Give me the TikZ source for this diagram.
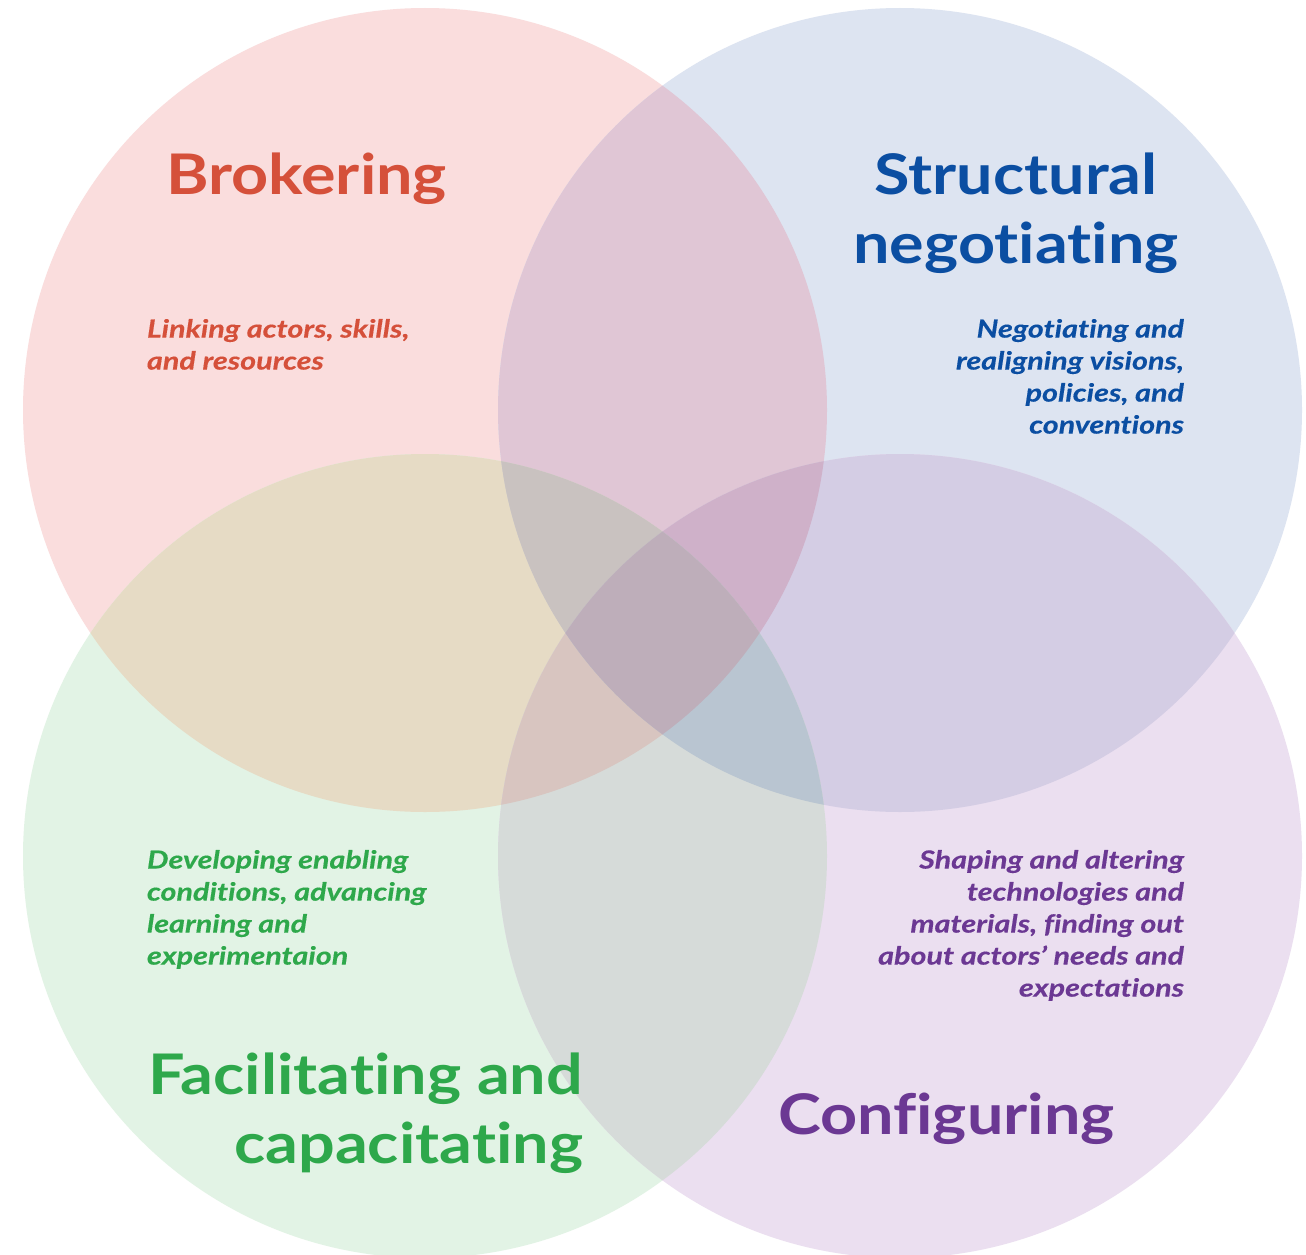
\documentclass[tikz,border=0pt]{standalone}
\usepackage{fontspec}
\setmainfont{Lato}
\newfontfamily\titlefont{Lato}[FakeStretch=1.155, Ligatures=NoCommon]
\newfontfamily\descfont{Lato}[FakeStretch=1.22, Ligatures=NoCommon, BoldItalicFeatures={FakeBold=0.3}]
\definecolor{fP}{HTML}{FADDDD}
\definecolor{fB}{HTML}{DDE4F1}
\definecolor{fG}{HTML}{E2F3E5}
\definecolor{fU}{HTML}{EBDFF0}
\definecolor{fPB}{HTML}{E0C6D5}
\definecolor{fPG}{HTML}{E6DBC5}
\definecolor{fBU}{HTML}{D4CDE4}
\definecolor{fGU}{HTML}{D6DBD9}
\definecolor{fPU}{HTML}{D9C3D1}
\definecolor{fBG}{HTML}{D0CFD0}
\definecolor{fPBG}{HTML}{C9C2C0}
\definecolor{fPBU}{HTML}{CFB1C9}
\definecolor{fPGU}{HTML}{D8C5C0}
\definecolor{fBGU}{HTML}{B9C5D1}
\definecolor{fALL}{HTML}{BEAEBA}
\definecolor{tR}{HTML}{D5503A}
\definecolor{tB}{HTML}{0B4EA2}
\definecolor{tG}{HTML}{2EA84B}
\definecolor{tU}{HTML}{6B3893}
\def\cP{(425,410) circle[radius=402pt]}
\def\cB{(900,410) circle[radius=402pt]}
\def\cG{(425,856) circle[radius=402pt]}
\def\cU{(900,856) circle[radius=402pt]}
\tikzset{
  title/.style={inner sep=0pt, outer sep=0pt, font=\titlefont\fontsize{56}{69}\selectfont\bfseries},
  desc/.style={inner sep=0pt, outer sep=0pt, font=\descfont\fontsize{25}{32}\selectfont\bfseries\itshape}
}
\begin{document}
\begin{tikzpicture}[x=1pt,y=-1pt]
\useasboundingbox (0,0) rectangle (1306,1255);
\fill[white] (0,0) rectangle (1306,1255);
\begin{scope}
\clip (0,0) rectangle (1306,1255);
% single circles
\fill[fP] \cP;
\fill[fB] \cB;
\fill[fG] \cG;
\fill[fU] \cU;
% pairs
\begin{scope}\clip \cP; \fill[fPB] \cB; \end{scope}
\begin{scope}\clip \cP; \fill[fPG] \cG; \end{scope}
\begin{scope}\clip \cP; \fill[fPU] \cU; \end{scope}
\begin{scope}\clip \cB; \fill[fBU] \cU; \end{scope}
\begin{scope}\clip \cB; \fill[fBG] \cG; \end{scope}
\begin{scope}\clip \cG; \fill[fGU] \cU; \end{scope}
% triples
\begin{scope}\clip \cP; \clip \cB; \fill[fPBG] \cG; \end{scope}
\begin{scope}\clip \cP; \clip \cB; \fill[fPBU] \cU; \end{scope}
\begin{scope}\clip \cP; \clip \cG; \fill[fPGU] \cU; \end{scope}
\begin{scope}\clip \cB; \clip \cG; \fill[fBGU] \cU; \end{scope}
% all four
\begin{scope}\clip \cP; \clip \cB; \clip \cG; \fill[fALL] \cU; \end{scope}
\end{scope}

\node[title, text=tR, anchor=north west] (brok) at (166,153) {Brokering};
\node[title, text=tB, anchor=north, align=center] (struct) at (1016,153) {Structural\\negotiating};
\node[title, text=tG, anchor=north east, align=right] (facil) at (583,1053) {Facilitating and\\capacitating};
\node[title, text=tU, anchor=north west] (config) at (778,1093) {Configuring};

\node[desc, text=tR, anchor=north west, align=left] (dbrok) at (147,319) {Linking actors, skills,\\and resources};
\node[desc, text=tB, anchor=north east, align=right] (dstruct) at (1184,319) {Negotiating and\\realigning visions,\\policies, and\\conventions};
\node[desc, text=tG, anchor=north west, align=left] (dfacil) at (147,850) {Developing enabling\\conditions, advancing\\learning and\\experimentaion};
\node[desc, text=tU, anchor=north east, align=right] (dconfig) at (1184,850) {Shaping and altering\\technologies and\\materials, finding out\\about actors’ needs and\\expectations};
\end{tikzpicture}
\end{document}
